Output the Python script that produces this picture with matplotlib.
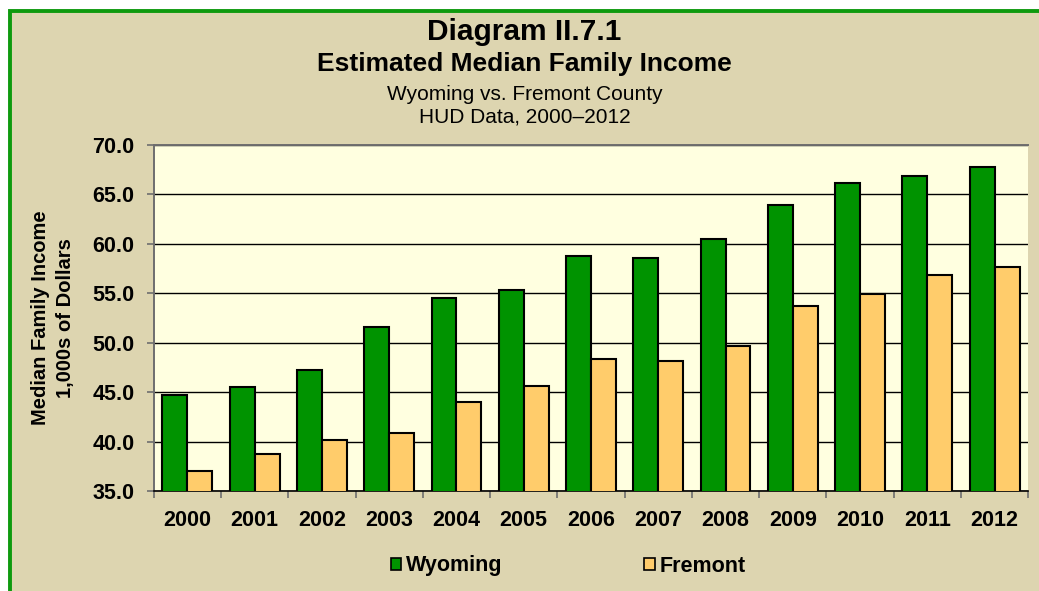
import numpy as np
import matplotlib
matplotlib.use("Agg")
import matplotlib.pyplot as plt
from matplotlib.patches import Rectangle, Patch
from matplotlib.ticker import MultipleLocator, FixedLocator

plt.rcParams['font.family'] = ['Liberation Sans', 'DejaVu Sans']

# 数据
years = ['2000', '2001', '2002', '2003', '2004', '2005', '2006',
         '2007', '2008', '2009', '2010', '2011', '2012']
wyoming = [44.7, 45.5, 47.2, 51.6, 54.5, 55.3, 58.8,
           58.5, 60.5, 63.9, 66.1, 66.8, 67.7]
fremont = [37.0, 38.7, 40.2, 40.9, 44.0, 45.6, 48.3,
           48.1, 49.7, 53.7, 54.9, 56.8, 57.6]

green = '#009300'
orange = '#FFCC6B'
tan = '#DDD5B0'
plot_bg = '#FFFFE0'

fig = plt.figure(figsize=(10.39, 5.91), dpi=100, facecolor='white')

# 背景框
W, H = 1039, 591
fig.patches.append(Rectangle((10 / W, -0.1), 1.2, 1.1 - 11 / H,
                             transform=fig.transFigure, facecolor=tan,
                             edgecolor='#0E9A0E', linewidth=2.8, zorder=-10))

ax = fig.add_axes([153.7 / W, 1 - 491 / H, (1028.3 - 153.7) / W, (491 - 144.7) / H])
ax.set_zorder(1)
ax.set_facecolor(plot_bg)

x = np.arange(len(years))
bw = 0.37
ax.bar(x - bw / 2, wyoming, bw, color=green, edgecolor='black', linewidth=1.5,
       label='Wyoming', zorder=3)
ax.bar(x + bw / 2, fremont, bw, color=orange, edgecolor='black', linewidth=1.5,
       label='Fremont', zorder=3)

ax.set_ylim(35, 70)
ax.set_xlim(-0.5, len(years) - 0.5)
ax.yaxis.set_major_locator(MultipleLocator(5))
ax.set_yticklabels([f'{v:.1f}' for v in ax.get_yticks()])
ax.yaxis.grid(True, color='black', linewidth=1.0, zorder=1)
ax.set_axisbelow(True)

ax.set_xticks(x)
ax.set_xticklabels(years)
ax.xaxis.set_minor_locator(FixedLocator(np.arange(-0.5, len(years), 1.0)))
ax.tick_params(axis='x', which='major', length=0, pad=14)
ax.tick_params(axis='x', which='minor', length=5, color='#6E6E6E', width=1.2, direction='out')
ax.tick_params(axis='y', length=5, color='#6E6E6E', width=1.2, pad=9)
for lab in ax.get_xticklabels() + ax.get_yticklabels():
    lab.set_fontsize(15.5)
    lab.set_fontweight('bold')

for s in ['left', 'top']:
    ax.spines[s].set_color('#6E6E6E')
    ax.spines[s].set_linewidth(1.4)
ax.spines['bottom'].set_color('black')
ax.spines['bottom'].set_linewidth(1.2)
ax.spines['right'].set_visible(False)

ax.set_ylabel('Median Family Income\n1,000s of Dollars', fontsize=14.5, fontweight='bold',
              labelpad=12, linespacing=1.4)

# 标题
cx = 0.5 + 10 / W / 2
fig.text(cx, 1 - 32 / H, 'Diagram II.7.1', ha='center', va='center',
         fontsize=21.5, fontweight='bold')
fig.text(cx, 1 - 64 / H, 'Estimated Median Family Income', ha='center',
         va='center', fontsize=19, fontweight='bold')
fig.text(cx, 1 - 94 / H, 'Wyoming vs. Fremont County', ha='center',
         va='center', fontsize=15)
fig.text(cx, 1 - 117 / H, 'HUD Data, 2000\u20132012', ha='center',
         va='center', fontsize=15)

# 图例
handles = [Patch(facecolor=green, edgecolor='black', linewidth=1.2, label='Wyoming'),
           Patch(facecolor=orange, edgecolor='black', linewidth=1.2, label='Fremont')]
fig.legend(handles=handles, loc='center', bbox_to_anchor=(568 / W, 1 - 566 / H), ncol=2,
           frameon=False, prop={'weight': 'bold', 'size': 15.5},
           handlelength=0.5, handleheight=0.5, handletextpad=0.2, columnspacing=6.6)

fig.savefig('out.png', dpi=100, facecolor=fig.get_facecolor())
